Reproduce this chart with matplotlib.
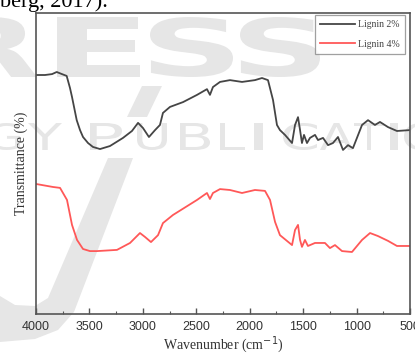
import numpy as np
import matplotlib
matplotlib.use("Agg")
import matplotlib.pyplot as plt
from matplotlib.ticker import MultipleLocator
from matplotlib.textpath import TextPath
from matplotlib.patches import PathPatch, Polygon
from matplotlib.font_manager import FontProperties
from matplotlib.transforms import Affine2D, IdentityTransform

# FTIR spectra (wavenumber in cm-1, transmittance in arbitrary %)
wn_2 = [4000, 3916, 3850, 3806, 3757, 3713, 3682, 3663, 3619, 3588, 3560, 3513, 3467, 3401,
        3308, 3186, 3102, 3045, 2999, 2943, 2886, 2840, 2812, 2746, 2624, 2493, 2400, 2372,
        2344, 2278, 2185, 2072, 1951, 1885, 1829, 1782, 1745, 1717, 1670, 1604, 1576, 1548,
        1529, 1511, 1492, 1464, 1436, 1389, 1361, 1314, 1267, 1221, 1174, 1127, 1080, 1034,
        949, 893, 828, 781, 706, 622, 500]
t_2 = [79.4, 79.4, 79.7, 80.4, 79.7, 79.1, 75.1, 72.1, 64.4, 61.1, 58.8, 56.8, 55.5, 54.8,
       55.8, 58.5, 60.8, 63.5, 61.8, 58.8, 61.1, 62.8, 66.8, 68.8, 70.4, 72.8, 74.7, 72.8,
       75.4, 77.1, 77.7, 77.1, 77.7, 78.4, 77.7, 71.1, 62.8, 61.1, 59.5, 56.8, 62.8, 65.4,
       61.1, 56.8, 59.5, 56.8, 58.5, 59.5, 57.8, 58.5, 56.1, 56.8, 58.8, 54.5, 56.1, 55.1,
       62.8, 64.4, 62.8, 63.8, 62.1, 60.8, 61.1]

wn_4 = [4000, 3841, 3775, 3710, 3663, 3616, 3560, 3495, 3429, 3242, 3120, 3027, 2980, 2924,
        2858, 2812, 2718, 2493, 2400, 2372, 2344, 2278, 2185, 2072, 1951, 1857, 1810, 1763,
        1717, 1604, 1576, 1548, 1529, 1511, 1483, 1455, 1389, 1296, 1249, 1202, 1136, 1043,
        949, 874, 800, 706, 622, 500]
t_4 = [43.2, 42.2, 41.9, 37.9, 29.6, 24.6, 21.6, 20.9, 20.9, 21.3, 23.6, 26.9, 25.6, 23.9,
       26.2, 30.2, 32.9, 37.9, 40.2, 38.2, 40.2, 41.5, 41.2, 40.2, 41.2, 40.9, 37.9, 30.6,
       26.2, 22.9, 27.9, 29.6, 24.6, 22.3, 24.6, 22.6, 23.6, 23.6, 21.9, 22.9, 20.9, 20.6,
       24.6, 26.9, 25.9, 24.3, 22.6, 22.6]

x_ticks = [4000, 3500, 3000, 2500, 2000, 1500, 1000, 500]

# watermark letters: (char, left px, right px) in the two rows
wm_row1 = [('R', -48, 37), ('E', 57, 140), ('S', 150, 233), ('S', 240, 320)]
wm_row2 = [('G', -12, 20), ('Y', 28, 62), ('P', 90, 122), ('U', 137, 167), ('B', 180, 210),
           ('L', 220, 245), ('I', 254, 263), ('C', 283, 317), ('A', 320, 353),
           ('T', 354, 384), ('I', 390, 398), ('O', 404, 438)]

W, H = 415, 356
plt.rcParams['font.family'] = ['Liberation Serif', 'DejaVu Serif']

fig = plt.figure(figsize=(W / 100, H / 100), dpi=100)

wm_color = '#e6e6e6'


def wm_letter(ch, x0, x1, ytop, ybot, weight):
    # glyph stretched into a pixel box (y measured from the top)
    p = TextPath((0, 0), ch, size=1, prop=FontProperties(family='DejaVu Sans', weight=weight))
    ext = p.get_extents()
    sx = (x1 - x0) / ext.width
    sy = (ybot - ytop) / ext.height
    tr = Affine2D().translate(-ext.x0, -ext.y0).scale(sx, sy).translate(x0, H - ybot)
    fig.add_artist(PathPatch(tr.transform_path(p), facecolor=wm_color, edgecolor='none',
                             transform=IdentityTransform(), zorder=0))


for ch, a, b in wm_row1:
    wm_letter(ch, a, b, 17, 77, 'bold')
for ch, a, b in wm_row2:
    wm_letter(ch, a, b, 123, 150, 'normal')

swoosh_top = [(142, 86), (162, 86), (147, 117), (127, 117)]
swoosh = [(108, 158), (133, 158), (74, 312), (58, 330), (35, 339), (0, 342), (0, 296),
          (15, 305), (35, 306), (48, 298)]
for pts in (swoosh_top, swoosh):
    fig.add_artist(Polygon([(x, H - y) for x, y in pts], closed=True, facecolor=wm_color,
                           edgecolor='none', transform=IdentityTransform(), zorder=0))

fig.text(0.0, 0.980, 'berg, 2017).', fontsize=16, va='baseline', ha='left')

ax = fig.add_axes([36 / W, 1 - 314 / H, 374 / W, 301 / H])
ax.patch.set_alpha(0)

ax.plot(wn_2, t_2, color='#454545', lw=1.3, label='Lignin 2%')
ax.plot(wn_4, t_4, color='#ff5858', lw=1.3, label='Lignin 4%')

ax.set_xlim(4000, 500)
ax.set_ylim(0, 100)
ax.set_xticks(x_ticks)
ax.xaxis.set_minor_locator(MultipleLocator(250))
ax.set_yticks([])
ax.tick_params(axis='x', direction='in', length=4, width=1, color='#555555', labelsize=9,
               pad=5, labelcolor='#333333')
ax.tick_params(axis='x', which='minor', direction='in', length=2.5, width=0.8, color='#555555')
for lab in ax.get_xticklabels():
    lab.set_family(['Liberation Sans', 'DejaVu Sans'])
for s in ax.spines.values():
    s.set_color('#555555')
    s.set_linewidth(1.2)

ax.set_xlabel('Wavenumber (cm$^{-1}$)', fontsize=10, labelpad=1, color='#333333')
ax.set_ylabel('Transmittance (%)', fontsize=10, labelpad=6, color='#333333')

leg = ax.legend(loc='upper right', bbox_to_anchor=(0.9866, 0.993), borderaxespad=0,
                fontsize=7, frameon=True, fancybox=False, edgecolor='#888888',
                handlelength=3.6, borderpad=0.55, labelspacing=1.05, handletextpad=0.3)
leg.get_frame().set_linewidth(0.9)
for t in leg.get_texts():
    t.set_color('#444444')

fig.savefig('out.png', dpi=100)
